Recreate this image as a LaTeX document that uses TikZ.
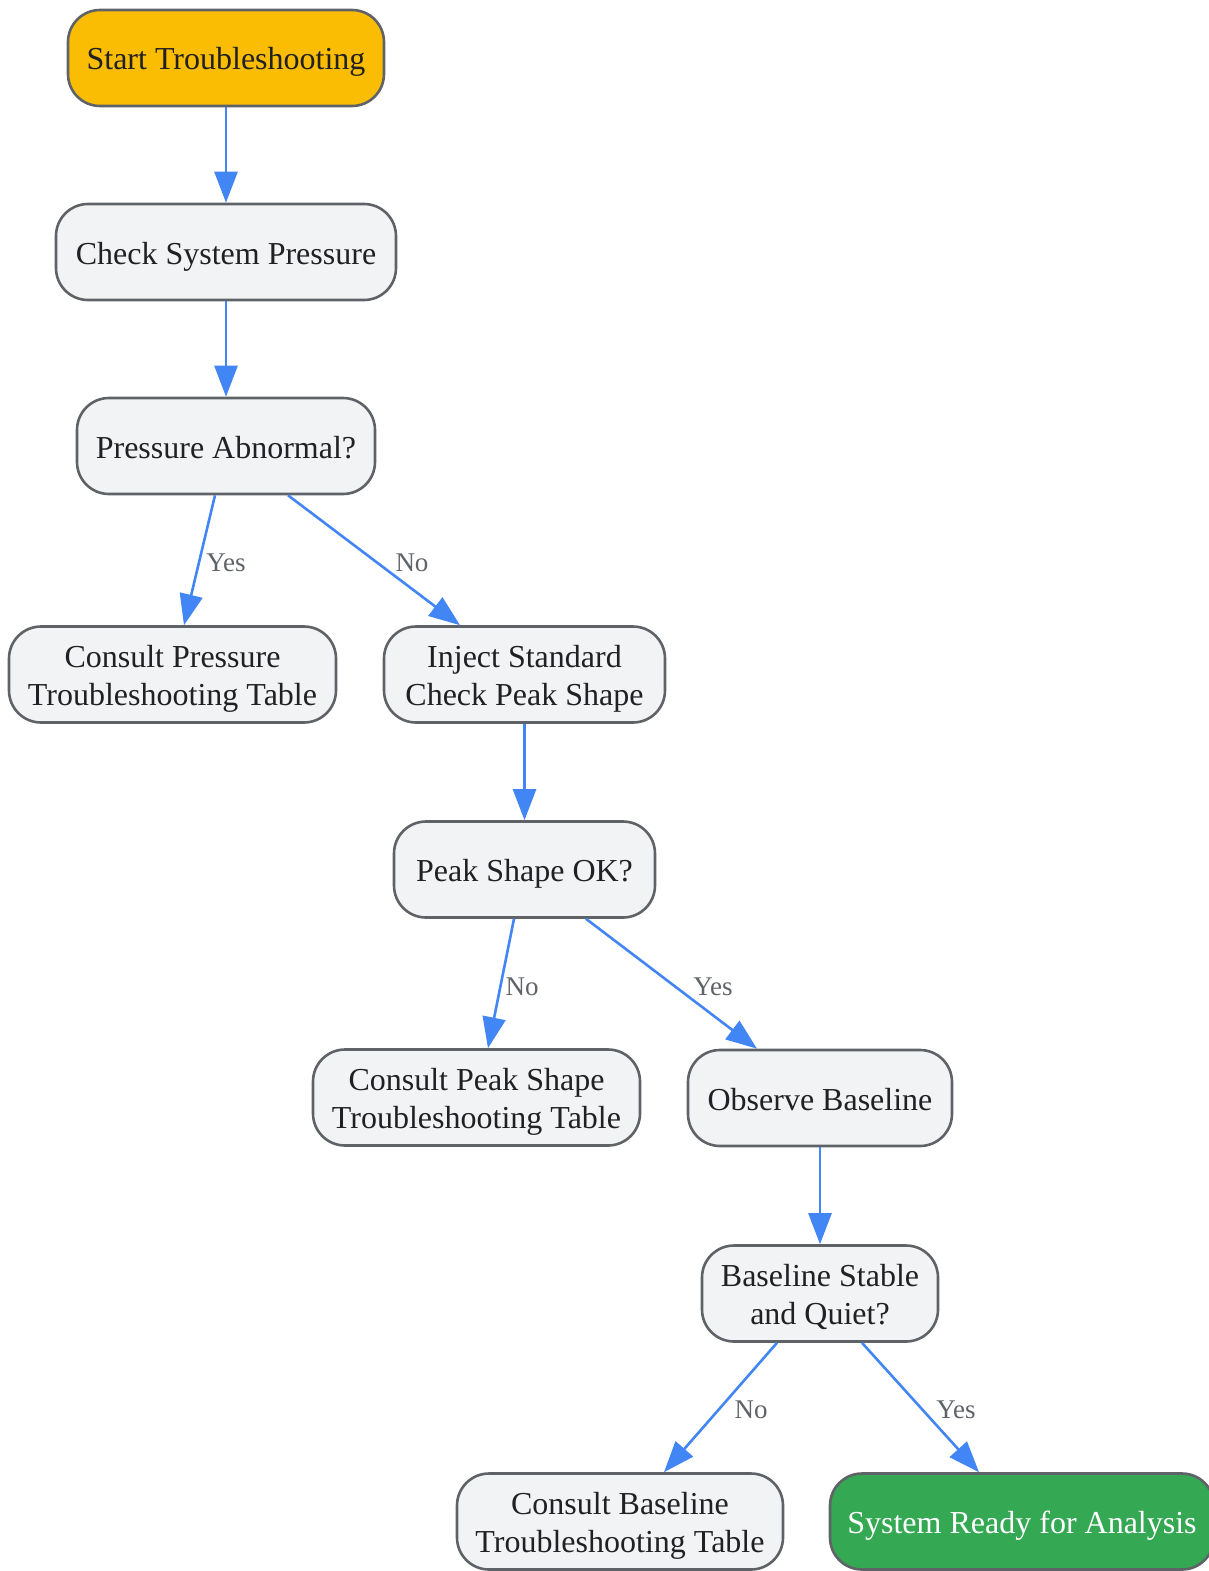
\documentclass[tikz,border=0pt]{standalone}
\usepackage{fontspec}
\setmainfont{Liberation Serif}
\usetikzlibrary{arrows.meta}
\definecolor{bordc}{HTML}{5F6368}
\definecolor{fillc}{HTML}{F1F3F4}
\definecolor{txtc}{HTML}{202124}
\definecolor{lblc}{HTML}{5F6368}
\definecolor{edgec}{HTML}{4285F4}
\definecolor{yellowc}{HTML}{FBBC04}
\definecolor{greenc}{HTML}{34A853}
\newcommand\lnstrut{\rule[-7pt]{0pt}{38pt}}
\tikzset{
  box/.style={draw=bordc, fill=fillc, line width=2.6pt, rounded corners=32pt,
    minimum height=96pt, inner sep=0pt, align=center, text=txtc,
    font=\fontsize{32pt}{38pt}\selectfont},
  startbox/.style={box, fill=yellowc},
  endbox/.style={box, fill=greenc, text=white},
  flow/.style={draw=edgec, line width=2.6pt, -{Triangle[length=31pt,width=23pt]}},
  lbl/.style={text=lblc, font=\fontsize{27pt}{32pt}\selectfont, inner sep=0pt}
}
\begin{document}
\begin{tikzpicture}[x=1pt,y=-1pt]
\useasboundingbox (0,0) rectangle (1209,1571);
\node[startbox, minimum width=316pt] (st) at (226,58) {\lnstrut Start Troubleshooting};
\node[box, minimum width=340pt] (csp) at (226,252) {\lnstrut Check System Pressure};
\node[box, minimum width=298pt] (pa) at (226,446) {\lnstrut Pressure Abnormal?};
\node[box, minimum width=327pt] (cpt) at (172.5,674.5) {\lnstrut Consult Pressure\\\lnstrut Troubleshooting Table};
\node[box, minimum width=281pt] (inj) at (524.5,674.5) {\lnstrut Inject Standard\\\lnstrut Check Peak Shape};
\node[box, minimum width=261pt] (pk) at (524.5,869.5) {\lnstrut Peak Shape OK?};
\node[box, minimum width=327pt] (cps) at (476.5,1097.5) {\lnstrut Consult Peak Shape\\\lnstrut Troubleshooting Table};
\node[box, minimum width=264pt] (ob) at (820,1098) {\lnstrut Observe Baseline};
\node[box, minimum width=236pt] (bs) at (820,1293.5) {\lnstrut Baseline Stable\\\lnstrut and Quiet?};
\node[box, minimum width=326pt] (cb) at (620,1521.5) {\lnstrut Consult Baseline\\\lnstrut Troubleshooting Table};
\node[endbox, minimum width=384pt] (sr) at (1022,1521.5) {\lnstrut System Ready for Analysis};

\draw[flow] (st.south) -- (csp.north);
\draw[flow] (csp.south) -- (pa.north);
\draw[flow] ([xshift=-11pt]pa.south) -- ([xshift=11.5pt]cpt.north);
\draw[flow] ([xshift=62pt]pa.south) -- ([xshift=-64.5pt]inj.north);
\draw[flow] (inj.south) -- (pk.north);
\draw[flow] ([xshift=-10.5pt]pk.south) -- ([xshift=11.5pt]cps.north);
\draw[flow] ([xshift=61.5pt]pk.south) -- ([xshift=-63pt]ob.north);
\draw[flow] (ob.south) -- (bs.north);
\draw[flow] ([xshift=-43pt]bs.south) -- ([xshift=44pt]cb.north);
\draw[flow] ([xshift=42pt]bs.south) -- ([xshift=-43pt]sr.north);

\node[lbl] (l1) at (226,563) {Yes};
\node[lbl] (l2) at (412,563) {No};
\node[lbl] (l3) at (522,987) {No};
\node[lbl] (l4) at (713,987) {Yes};
\node[lbl] (l5) at (751,1410) {No};
\node[lbl] (l6) at (956,1410) {Yes};
\end{tikzpicture}
\end{document}
